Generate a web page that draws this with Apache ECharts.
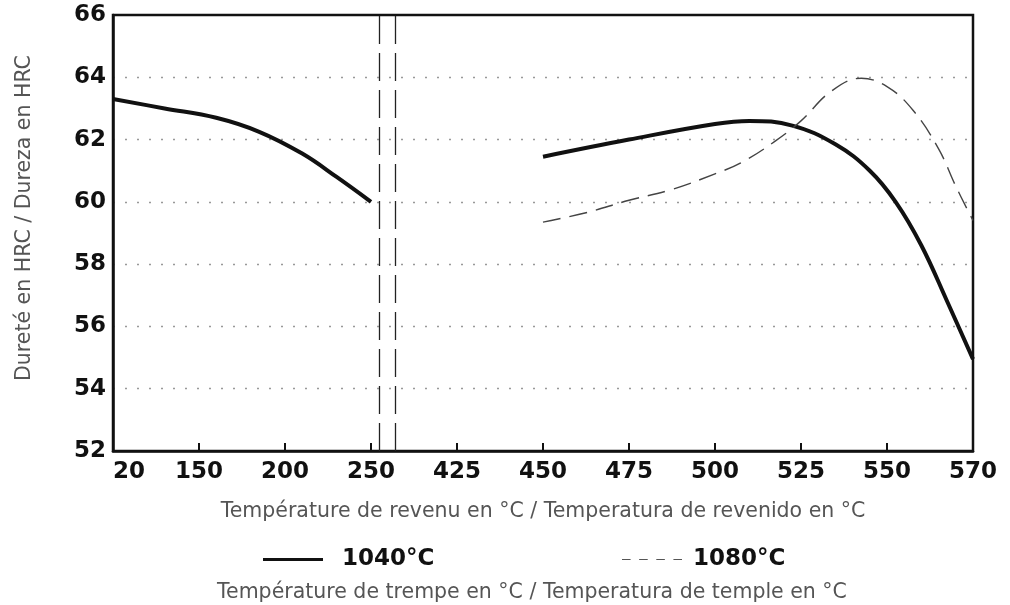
<!DOCTYPE html>
<html>
<head>
<meta charset="utf-8">
<script src="https://cdn.jsdelivr.net/npm/echarts@6/dist/echarts.min.js"></script>
<style>
  html, body { margin: 0; padding: 0; background: #fff; }
  #chart { width: 1010px; height: 605px; }
</style>
</head>
<body>
<div id="chart"></div>
<script>
// tick labels of the broken x axis (equally spaced)
const temps = ['20', '150', '200', '250', '425', '450', '475', '500', '525', '550', '570'];
const hrcTicks = [52, 54, 56, 58, 60, 62, 64, 66];

// points as [position on the tick scale, HRC]
const q1040Low = [[0, 63.3], [0.6, 63.0], [1.2, 62.7], [1.7, 62.25], [2.2, 61.55], [2.6, 60.8], [3.0, 60.0]];
const q1040High = [[5, 61.45], [6, 62.0], [7, 62.5], [7.4, 62.6], [7.9, 62.45], [8.4, 61.85], [8.8, 61.0],
  [9.1, 60.0], [9.4, 58.6], [9.7, 56.8], [10, 54.95]];
const q1080 = [[5, 59.35], [5.5, 59.65], [6, 60.05], [6.5, 60.4], [7, 60.9], [7.3, 61.25], [7.7, 61.95],
  [8.0, 62.6], [8.35, 63.55], [8.7, 63.97], [9.0, 63.7], [9.3, 62.95], [9.6, 61.7], [9.8, 60.5], [10, 59.4]];

// axis break marks between 250 and 425
const breakMarks = [3.1, 3.28];

const chart = echarts.init(document.getElementById('chart'));

const numFont = { fontFamily: 'DejaVu Sans', fontWeight: 'bold', fontSize: 23, color: '#111' };
const textFont = { fontFamily: 'DejaVu Sans', fontSize: 20.5, color: '#555' };
const legendFont = { fontFamily: 'DejaVu Sans', fontWeight: 'bold', fontSize: 23, color: '#111' };

// little dashed line for the 1080 legend
const dashIcon = 'path://M0,0h8v1h-8z M16,0h8v1h-8z M32,0h8v1h-8z M48,0h8v1h-8z';

chart.setOption({
  animation: false,
  grid: { left: 113, right: 37, top: 15, bottom: 154, show: true, borderColor: '#111', borderWidth: 2.5 },
  graphic: [{
    type: 'text',
    left: 217,
    top: 582,
    style: { text: 'Température de trempe en °C / Temperatura de temple en °C', fill: '#555', font: '20.5px "DejaVu Sans"' }
  }],
  legend: [
    {
      left: 258,
      top: 543,
      itemWidth: 60,
      itemHeight: 3,
      textStyle: Object.assign({ padding: [0, 0, 0, 14] }, legendFont),
      data: [{ name: '1040°C', icon: 'rect', itemStyle: { color: '#111' } }]
    },
    {
      left: 617,
      top: 543,
      itemWidth: 60,
      itemHeight: 2.5,
      textStyle: Object.assign({ padding: [0, 0, 0, 6] }, legendFont),
      data: [{ name: '1080°C', icon: dashIcon, itemStyle: { color: '#555' } }]
    }
  ],
  xAxis: {
    type: 'value',
    min: 0,
    max: 10,
    interval: 1,
    name: 'Température de revenu en °C / Temperatura de revenido en °C',
    nameLocation: 'middle',
    nameGap: 50,
    nameTextStyle: textFont,
    axisLine: { lineStyle: { color: '#111', width: 2.5 } },
    axisTick: { inside: true, length: 8, lineStyle: { color: '#111', width: 2 } },
    axisLabel: Object.assign({
      margin: 10,
      alignMinLabel: 'left',
      formatter: v => temps[v]
    }, numFont),
    splitLine: { show: false }
  },
  yAxis: {
    type: 'value',
    min: hrcTicks[0],
    max: hrcTicks[hrcTicks.length - 1],
    interval: 2,
    name: 'Dureté en HRC / Dureza en HRC',
    nameLocation: 'middle',
    nameGap: 78,
    nameTextStyle: Object.assign({ padding: [0, 0, 0, 30] }, textFont),
    axisLine: { lineStyle: { color: '#111', width: 2.5 } },
    axisTick: { show: false },
    axisLabel: Object.assign({ margin: 7 }, numFont),
    splitLine: {
      showMinLine: false,
      showMaxLine: false,
      lineStyle: { color: '#999', type: [2, 10], width: 1.3 }
    }
  },
  series: [
    {
      name: '1040°C',
      type: 'line',
      data: q1040Low,
      smooth: 0.4,
      symbol: 'none',
      lineStyle: { color: '#111', width: 4 },
      itemStyle: { color: '#111' },
      markLine: {
        silent: true,
        symbol: 'none',
        label: { show: false },
        lineStyle: { color: '#222', type: [28, 9], width: 1.3 },
        data: breakMarks.map(x => ({ xAxis: x }))
      }
    },
    {
      name: '1040°C',
      type: 'line',
      data: q1040High,
      smooth: 0.4,
      symbol: 'none',
      lineStyle: { color: '#111', width: 4 },
      itemStyle: { color: '#111' }
    },
    {
      name: '1080°C',
      type: 'line',
      data: q1080,
      smooth: 0.4,
      symbol: 'none',
      lineStyle: { color: '#444', width: 1.4, type: [18, 9] },
      itemStyle: { color: '#444' }
    }
  ]
});
</script>
</body>
</html>
